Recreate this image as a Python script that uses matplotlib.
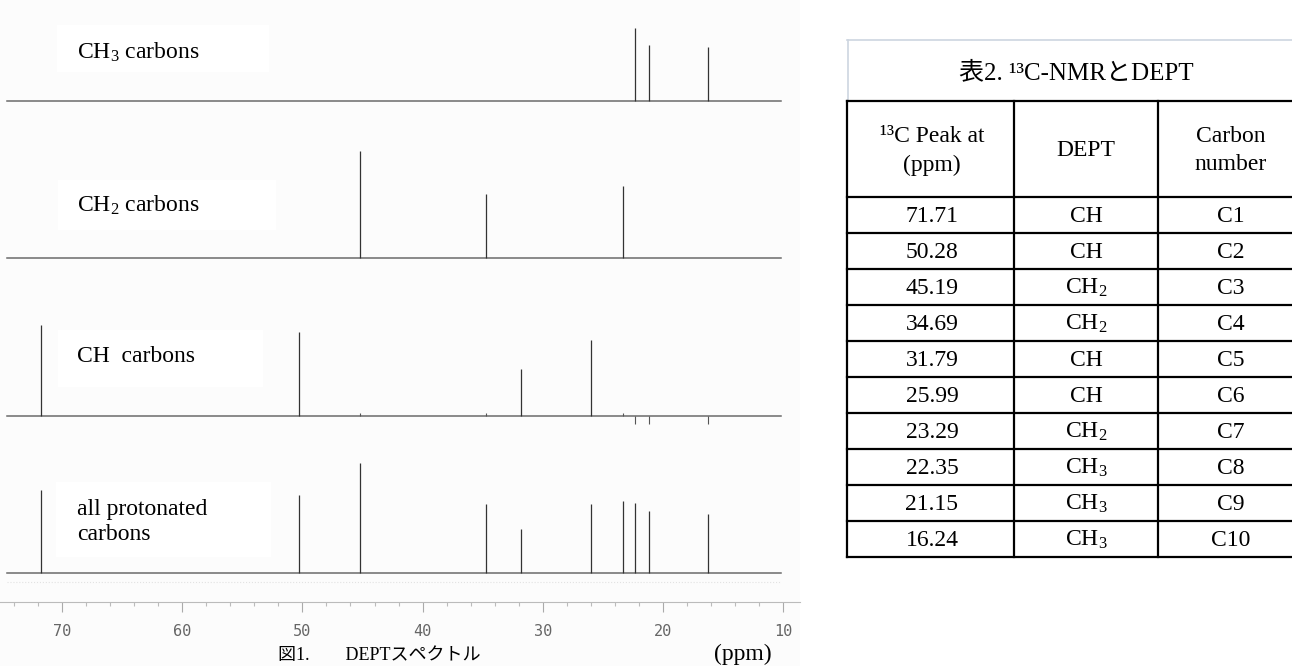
#13C NMR + DEPT spectra (left) with the peak table (right)
import numpy as np
import matplotlib
matplotlib.use('agg')
import matplotlib.pyplot as plt
from matplotlib.patches import Rectangle
from matplotlib.ticker import MultipleLocator

plt.rcParams['font.family'] = ['Liberation Serif', 'Noto Sans CJK JP']
plt.rcParams['mathtext.fontset'] = 'custom'
plt.rcParams['mathtext.rm'] = 'Liberation Serif'
plt.rcParams['mathtext.it'] = 'Liberation Serif:italic'
plt.rcParams['mathtext.bf'] = 'Liberation Serif:bold'

# table data
peak_ppm = [71.71, 50.28, 45.19, 34.69, 31.79, 25.99, 23.29, 22.35, 21.15, 16.24]
dept_type = ['CH', 'CH', 'CH2', 'CH2', 'CH', 'CH', 'CH2', 'CH3', 'CH3', 'CH3']
carbon_no = ['C1', 'C2', 'C3', 'C4', 'C5', 'C6', 'C7', 'C8', 'C9', 'C10']

# peak heights (px, same order as the table rows)
h_ch3 = [73, 56, 54]
h_ch2 = [107, 64, 72]
h_ch = [91, 84, 47, 76]
h_all = [83, 78, 110, 69, 44, 69, 72, 70, 62, 59]
# leftovers of CH2 / CH3 signals in the CH trace
h_ch_resid = {'CH2': 3, 'CH3': -8}

tick_ppm = [70, 60, 50, 40, 30, 20, 10]

W, H = 1292, 666
fig = plt.figure(figsize=(W / 100, H / 100), dpi=100)
fig.patch.set_facecolor('white')

# spectra axes: x in ppm, y in pixels from the top
ax = fig.add_axes([0, 0, 800 / W, 1])
ax.set_facecolor('#fcfcfc')
ax.set_xlim(75.16, 8.60)
ax.set_ylim(H, 0)

def pick(kind):
    return [p for p, d in zip(peak_ppm, dept_type) if d == kind]

traces = [
    (pick('CH3'), h_ch3, 101),
    (pick('CH2'), h_ch2, 258),
    (pick('CH'), h_ch, 416),
    (peak_ppm, h_all, 573),
]

for ppm, hts, base in traces:
    ax.plot([74.6, 10.2], [base, base], color='#6a6a6a', lw=1.1, zorder=2)
    ax.vlines(ppm, base, [base - h for h in hts], color='#333333', lw=0.9, zorder=3)

# small residual signals in the CH trace
for kind, h in h_ch_resid.items():
    ax.vlines(pick(kind), 416, 416 - h, color='#555555', lw=0.8, zorder=3)

ax.plot([74.6, 10.2], [582, 582], color='#e2e2e2', lw=0.8, ls=':')

for s in ['top', 'left', 'right']:
    ax.spines[s].set_visible(False)
ax.spines['bottom'].set_position(('data', 602))
ax.spines['bottom'].set_color('#bbbbbb')
ax.spines['bottom'].set_linewidth(0.8)
ax.set_xticks(tick_ppm)
ax.set_xticklabels([str(t) for t in tick_ppm])
ax.xaxis.set_minor_locator(MultipleLocator(2))
ax.set_yticks([])
ax.tick_params(axis='x', which='major', length=7.5, width=0.8, color='#aaaaaa',
               labelsize=11, labelcolor='#666666', pad=8, direction='out')
ax.tick_params(axis='x', which='minor', length=3, width=0.8, color='#bbbbbb', direction='out')
for lab in ax.get_xticklabels():
    lab.set_fontfamily('DejaVu Sans Mono')

# overlay in pixel coordinates for labels and the table
ov = fig.add_axes([0, 0, 1, 1])
ov.set_xlim(0, W)
ov.set_ylim(H, 0)
ov.axis('off')
ov.patch.set_alpha(0)

labels = ['CH$_3$ carbons', 'CH$_2$ carbons', 'CH  carbons', 'all protonated\ncarbons']
boxes = [(57, 25, 212, 47), (58, 180, 218, 50), (58, 330, 205, 57), (56, 482, 215, 75)]
label_y = [52, 205, 357, 522]
for txt, (bx, by, bw, bh), ly in zip(labels, boxes, label_y):
    ov.add_patch(Rectangle((bx, by), bw, bh, facecolor='white', edgecolor='none'))
    ov.text(77, ly, txt, fontsize=17, ha='left', va='center', linespacing=1.2)

ov.text(743, 654, '(ppm)', fontsize=17, ha='center', va='center')
ov.text(278, 664, '図1.\u3000\u3000DEPTスペクトル', fontsize=13, ha='left', va='bottom')

# table
cols = [847, 1014, 1158, 1300]
head_top, head_bot, row_h = 101, 197, 36
n = len(peak_ppm)
bottom = head_bot + n * row_h

ov.plot([847, 1300], [40, 40], color='#cdd5e0', lw=1.2)
ov.plot([848, 848], [40, head_top], color='#cdd5e0', lw=1.2)
ov.text(1076, 73, '表2. \u00b9\u00b3C-NMRとDEPT', fontsize=18, ha='center', va='center')

lw_t = 1.6
for y in [head_top, head_bot] + [head_bot + (i + 1) * row_h for i in range(n)]:
    ov.plot([cols[0], cols[-1]], [y, y], color='black', lw=lw_t, solid_capstyle='projecting')
for x in cols:
    ov.plot([x, x], [head_top, bottom], color='black', lw=lw_t, solid_capstyle='projecting')

cx = [932, 1086, 1231]
ov.text(cx[0], 137, '\u00b9\u00b3C Peak at', fontsize=17, ha='center', va='center')
ov.text(cx[0], 165, '(ppm)', fontsize=17, ha='center', va='center')
ov.text(cx[1], 150, 'DEPT', fontsize=17, ha='center', va='center')
ov.text(cx[2], 137, 'Carbon', fontsize=17, ha='center', va='center')
ov.text(cx[2], 164, 'number', fontsize=17, ha='center', va='center')

for i in range(n):
    yc = head_bot + i * row_h + row_h / 2 + 1
    d = dept_type[i]
    d_txt = 'CH$_%s$' % d[2:] if len(d) > 2 else d
    ov.text(cx[0], yc, '%.2f' % peak_ppm[i], fontsize=17, ha='center', va='center')
    ov.text(cx[1], yc, d_txt, fontsize=17, ha='center', va='center')
    ov.text(cx[2], yc, carbon_no[i], fontsize=17, ha='center', va='center')

plt.savefig('out.png', dpi=100)
